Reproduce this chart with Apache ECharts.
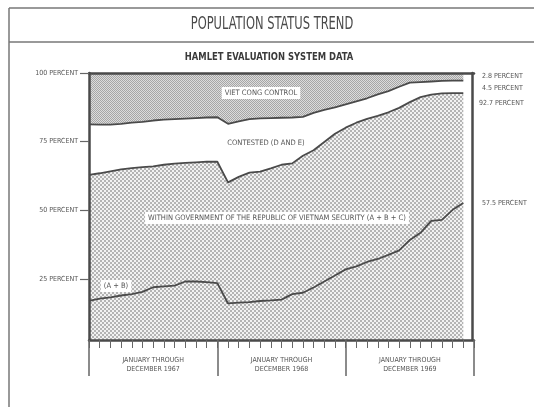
<!DOCTYPE html>
<html>
<head>
<meta charset="utf-8">
<script src="https://cdn.jsdelivr.net/npm/echarts@6/dist/echarts.min.js"></script>
<style>
html,body{margin:0;padding:0;background:#fff;}
#c{width:534px;height:407px;}
</style>
</head>
<body>
<div id="c"></div>
<script>
// Months Jan 1967 .. Dec 1969 (36 points) plus the closing edge of Dec 1969
const yearLabels = ['1967', '1968', '1969'];
const monthNames = ['Jan','Feb','Mar','Apr','May','Jun','Jul','Aug','Sep','Oct','Nov','Dec'];
const months = [];
yearLabels.forEach(y => monthNames.forEach(m => months.push(m + ' ' + y)));
const axisCategories = months.concat(['']);
const yTickValues = [25, 50, 75, 100];

// Shares (percent)
const abShare = [17.0,17.9,18.3,19.0,19.5,20.3,22.0,22.3,22.6,24.1,24.1,23.9,
  23.5,16.1,16.4,16.6,17.0,17.2,17.5,19.5,20.0,21.9,24.1,26.3,
  28.5,29.6,31.2,32.3,33.8,35.4,39.2,41.8,46.2,46.5,50.2,52.7];
const cShare = [45.9,45.6,45.9,45.9,45.9,45.4,44.0,44.3,44.4,43.2,43.4,43.8,
  44.2,44.1,45.8,47.1,47.1,48.1,49.1,47.6,49.9,50.0,50.8,51.6,
  51.6,52.3,52.1,52.1,51.9,51.9,50.2,49.4,45.9,46.1,42.5,40.0];
const contestedShare = [18.4,17.7,17.0,16.6,16.5,16.5,16.7,16.4,16.2,16.1,16.1,16.1,
  16.2,21.3,20.2,19.5,19.4,18.3,17.1,16.7,14.1,13.6,11.7,9.6,
  8.5,7.8,7.5,7.8,7.7,7.7,7.1,5.5,4.8,4.5,4.5,4.5];
const vcShare = [18.7,18.8,18.8,18.5,18.1,17.8,17.3,17.0,16.8,16.6,16.4,16.2,
  16.1,18.5,17.6,16.8,16.5,16.4,16.3,16.2,16.0,14.5,13.4,12.5,
  11.4,10.3,9.2,7.8,6.6,5.0,3.5,3.3,3.1,2.9,2.8,2.8];

const FONT = "'Liberation Sans Narrow', 'DejaVu Sans Condensed', sans-serif";
const TXT = '#555';
const LINE = '#4a4a4a';

function pattern(size, fn) {
  const c = document.createElement('canvas');
  c.width = size; c.height = size;
  const g = c.getContext('2d');
  fn(g);
  return {image: c, repeat: 'repeat'};
}
const hatch = pattern(4, g => {
  g.fillStyle = '#f2f2f2'; g.fillRect(0, 0, 4, 4);
  g.fillStyle = '#b4b4b4'; g.fillRect(0, 0, 2, 2); g.fillRect(2, 2, 2, 2);
});
const dots = pattern(2, g => {
  g.fillStyle = '#dcdcdc'; g.fillRect(0, 0, 2, 2);
  g.fillStyle = '#a6a6a6'; g.fillRect(0, 0, 1, 1); g.fillRect(1, 1, 1, 1);
});

function mkSeries(name, arr, fill, lineW) {
  return {
    name, type: 'line', stack: 'hes', data: arr,
    xAxisIndex: 0, yAxisIndex: 0,
    showSymbol: false, symbol: 'none',
    lineStyle: {color: LINE, width: lineW},
    areaStyle: {color: fill, opacity: 1},
    emphasis: {disabled: true}, z: 2
  };
}

const chart = echarts.init(document.getElementById('c'));
const boxText = (text, x, y, boxed) => ({
  type: 'text', x, y, z: 100,
  style: {text, font: '7.5px ' + FONT, fill: TXT, align: 'center', verticalAlign: 'middle',
    backgroundColor: boxed ? '#fff' : undefined, padding: boxed ? [2, 3] : 0}
});
const sideText = (text, x, y) => ({
  type: 'text', x, y, style: {text, font: '7px ' + FONT, fill: TXT, verticalAlign: 'middle'}
});

chart.setOption({
  animation: false,
  backgroundColor: '#fff',
  grid: {left: 89, right: 60, top: 73, bottom: 67, containLabel: false},
  xAxis: [
    {type: 'category', data: axisCategories, boundaryGap: false, position: 'bottom', z: 10,
      axisLine: {show: true, onZero: false, lineStyle: {color: LINE, width: 2.5}},
      axisTick: {show: true, interval: 0, length: 8, lineStyle: {color: '#666', width: 1}},
      axisLabel: {show: false}, splitLine: {show: false}},
    {type: 'value', min: 0, max: 36, position: 'bottom', z: 10,
      axisLine: {show: false, onZero: false},
      axisTick: {show: true, customValues: [0, 12, 24, 36], length: 36, lineStyle: {color: '#666', width: 1.5}},
      axisLabel: {show: true, customValues: [6, 18, 30], margin: 16, color: TXT, fontFamily: FONT, fontSize: 7, lineHeight: 9,
        formatter: v => 'JANUARY THROUGH\nDECEMBER ' + yearLabels[Math.floor(v / 12)]},
      splitLine: {show: false}},
    {type: 'value', min: 0, max: 36, position: 'top', z: 10,
      axisLine: {show: true, onZero: false, lineStyle: {color: LINE, width: 2.5}},
      axisTick: {show: false}, axisLabel: {show: false}, splitLine: {show: false}}
  ],
  yAxis: [
    {type: 'value', min: 2.8, max: 100, position: 'left', z: 10,
      axisLine: {show: true, onZero: false, lineStyle: {color: LINE, width: 2.5}},
      axisTick: {show: true, customValues: yTickValues, length: 9, lineStyle: {color: '#666', width: 1.2}},
      axisLabel: {show: true, customValues: yTickValues, margin: 11, color: TXT, fontFamily: FONT, fontSize: 7,
        formatter: v => v + ' PERCENT'},
      splitLine: {show: false}},
    {type: 'value', min: 2.8, max: 100, position: 'right', z: 10, offset: -2,
      axisLine: {show: true, onZero: false, lineStyle: {color: LINE, width: 2.5}},
      axisTick: {show: false}, axisLabel: {show: false}, splitLine: {show: false}}
  ],
  series: [
    mkSeries('A + B', abShare, hatch, 1.8),
    mkSeries('C', cShare, hatch, 1.8),
    mkSeries('Contested', contestedShare, '#ffffff', 1.8),
    mkSeries('Viet Cong', vcShare, dots, 0)
  ],
  graphic: [
    {type: 'line', shape: {x1: 9, y1: 8, x2: 534, y2: 8}, style: {stroke: '#777', lineWidth: 1.5}},
    {type: 'line', shape: {x1: 9, y1: 42, x2: 534, y2: 42}, style: {stroke: '#777', lineWidth: 1.5}},
    {type: 'line', shape: {x1: 9, y1: 8, x2: 9, y2: 407}, style: {stroke: '#777', lineWidth: 1.5}},
    {type: 'text', x: 272, y: 25, scaleX: 0.75, style: {text: 'POPULATION STATUS TREND', font: '17px ' + FONT, fill: '#4a4a4a', align: 'center', verticalAlign: 'middle'}},
    {type: 'text', x: 269, y: 57, scaleX: 0.85, style: {text: 'HAMLET EVALUATION SYSTEM DATA', font: 'bold 11px ' + FONT, fill: '#3a3a3a', align: 'center', verticalAlign: 'middle'}},
    boxText('VIET CONG CONTROL', 261, 93, true),
    boxText('CONTESTED (D AND E)', 266, 143, false),
    boxText('WITHIN GOVERNMENT OF THE REPUBLIC OF VIETNAM SECURITY (A + B + C)', 277, 218, true),
    boxText('(A + B)', 116, 286, true),
    sideText('2.8 PERCENT', 482, 76),
    sideText('4.5 PERCENT', 482, 88),
    sideText('92.7 PERCENT', 479, 103),
    sideText('57.5 PERCENT', 482, 203)
  ]
});
</script>
</body>
</html>
